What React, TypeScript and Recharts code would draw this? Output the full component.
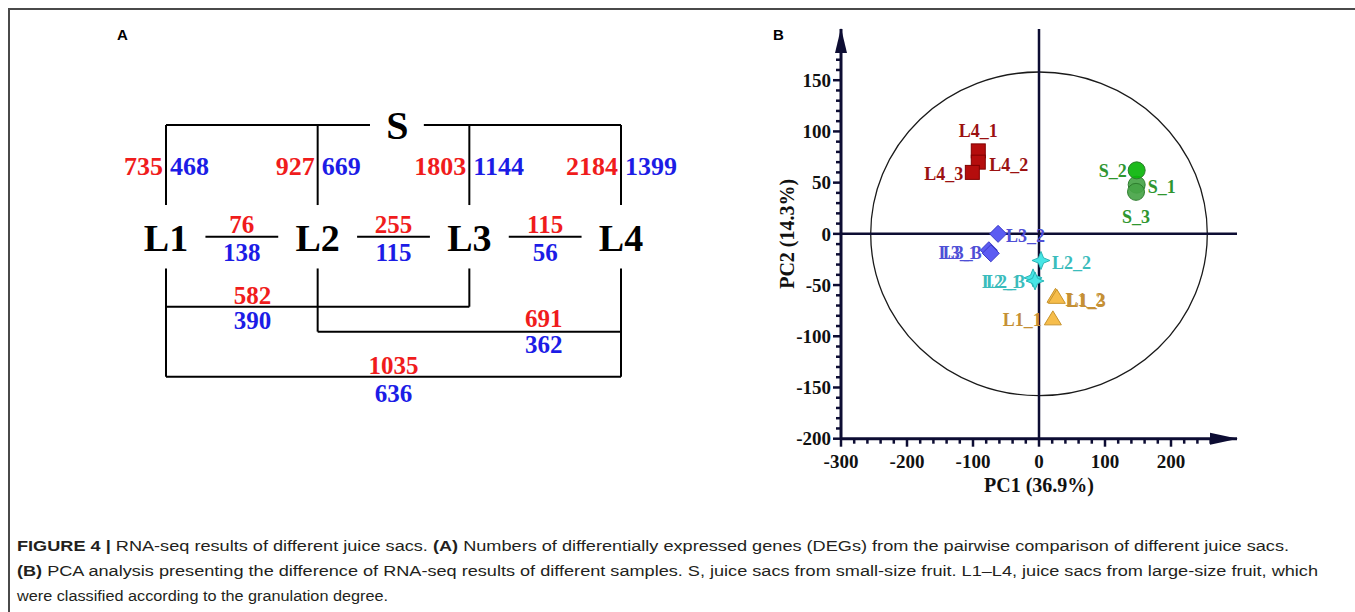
import React from 'react';
import {
  ComposedChart,
  ScatterChart,
  Scatter,
  XAxis,
  YAxis,
  ReferenceLine,
  ReferenceDot,
  ReferenceArea,
  Label,
} from 'recharts';

const SERIF = '"Liberation Serif", "Times New Roman", serif';
const SANS = '"Liberation Sans", Arial, Helvetica, sans-serif';
const RED = '#f01c1c';
const BLUE = '#1c1ce6';
const AXIS = '#0d0d33';

// ---------------- Panel A data (DEG counts) ----------------
const GROUPS = ['L1', 'L2', 'L3', 'L4'];
const VS_S_RED = [735, 927, 1803, 2184];
const VS_S_BLUE = [468, 669, 1144, 1399];
const ADJ_RED = [76, 255, 115]; // L1-L2, L2-L3, L3-L4
const ADJ_BLUE = [138, 115, 56];
const SKIP_PAIRS: [number, number][] = [[1, 3], [2, 4], [1, 4]];
const SKIP_RED = [582, 691, 1035];
const SKIP_BLUE = [390, 362, 636];

// Panel A diagram layout levels (diagram coordinates, not data)
const LV_S = 0;
const LV_TOPNUM = 16.3;
const LV_DROP = 31.8;
const LV_L = 44.9;
const LV_FRAC_RED = 39.3;
const LV_FRAC_BAR = 44.4;
const LV_FRAC_BLUE = 50.7;
const LV_LOW = 57;
const S_GAP: [number, number] = [2.345, 2.7];
const S_X = 2.525;
const FRAC_HALF = 0.24;
const SKIP_LEVEL = [72.2, 82.1, 100];
const SKIP_LABEL_X = [1.57, 3.49, 2.5];
const SKIP_LABEL_OFF: [number, number][] = [[-4.7, 5.2], [-5.3, 5.2], [-4.6, 6.6]];

// ---------------- Panel B data (PCA scores) ----------------
const S_NAMES = ['S_1', 'S_2', 'S_3'];
const S_PC1 = [148, 148, 147];
const S_PC2 = [48, 62, 41];

const L1_NAMES = ['L1_1', 'L1_2', 'L1_3'];
const L1_PC1 = [21, 25, 27];
const L1_PC2 = [-83, -61, -62];

const L2_NAMES = ['L2_1', 'L2_2', 'L2_3'];
const L2_PC1 = [-9, 3, -6];
const L2_PC2 = [-43, -26, -46];

const L3_NAMES = ['L3_1', 'L3_2', 'L3_3'];
const L3_PC1 = [-76, -62, -73];
const L3_PC2 = [-16, 0, -19];

const L4_NAMES = ['L4_1', 'L4_2', 'L4_3'];
const L4_PC1 = [-92, -92, -101];
const L4_PC2 = [81, 70, 60];

const X_MAJOR = [-300, -200, -100, 0, 100, 200];
const Y_MAJOR = [-200, -150, -100, -50, 0, 50, 100, 150];
const range = (a: number, b: number, s: number) => {
  const out: number[] = [];
  for (let v = a; v <= b; v += s) out.push(v);
  return out;
};
const X_TICKS = range(-300, 260, 20);
const Y_TICKS = range(-200, 170, 10);

const ELLIPSE_RX = 255;
const ELLIPSE_RY = 158;

type Style = { marker: string; fill: string; stroke: string; label: string };
const GROUP_STYLE: Record<string, Style> = {
  S: { marker: 'circle', fill: '#47a447', stroke: '#2d7d2d', label: '#2f962f' },
  L1: { marker: 'triangle', fill: '#f6bd4b', stroke: '#c8942e', label: '#c59035' },
  L2: { marker: 'star', fill: '#47e6e6', stroke: '#2ab5b5', label: '#3bbcbc' },
  L3: { marker: 'diamond', fill: '#5c5cf2', stroke: '#3c3cc8', label: '#4f4fd6' },
  L4: { marker: 'square', fill: '#b50d0d', stroke: '#800000', label: '#9b1111' },
};
const POINT_FILL: Record<string, string> = { S_2: '#0ab50a' };

// label offsets in pixels from the marker: [dx, dy, anchor]
const LABEL_PLACE: Record<string, [number, number, string]> = {
  S_1: [11, 2, 'start'],
  S_2: [-10, 0, 'end'],
  S_3: [0, 25, 'middle'],
  L4_1: [0, -20, 'middle'],
  L4_2: [11, 3, 'start'],
  L4_3: [-9, 1, 'end'],
  L3_1: [-11, 2, 'end'],
  L3_2: [8, 2, 'start'],
  L3_3: [-9, -1, 'end'],
  L2_1: [-12, 4, 'end'],
  L2_2: [11, 2, 'start'],
  L2_3: [-10, 1, 'end'],
  L1_1: [-11, 1, 'end'],
  L1_2: [10, 3, 'start'],
  L1_3: [10, 3, 'start'],
};

const toPoints = (names: string[], xs: number[], ys: number[]) =>
  names.map((name, i) => ({ name, pc1: xs[i], pc2: ys[i] }));

const makeShape = (style: Style) => (p: any) => {
  const { cx, cy, payload } = p;
  const name = payload.name;
  const fill = POINT_FILL[name] ?? style.fill;
  let marker: React.ReactNode = null;
  if (style.marker === 'circle') {
    marker = <circle cx={cx} cy={cy} r={8.5} fill={fill} stroke={style.stroke} strokeWidth={1} fillOpacity={0.92} />;
  } else if (style.marker === 'square') {
    marker = <rect x={cx - 7} y={cy - 7} width={14} height={14} fill={fill} stroke={style.stroke} strokeWidth={1} />;
  } else if (style.marker === 'diamond') {
    marker = (
      <polygon
        points={`${cx},${cy - 8.5} ${cx + 8.5},${cy} ${cx},${cy + 8.5} ${cx - 8.5},${cy}`}
        fill={fill}
        stroke={style.stroke}
        strokeWidth={1}
      />
    );
  } else if (style.marker === 'star') {
    const o = 9;
    const n = 2.6;
    marker = (
      <polygon
        points={`${cx},${cy - o} ${cx + n},${cy - n} ${cx + o},${cy} ${cx + n},${cy + n} ${cx},${cy + o} ${cx - n},${cy + n} ${cx - o},${cy} ${cx - n},${cy - n}`}
        fill={fill}
        stroke={style.stroke}
        strokeWidth={1}
      />
    );
  } else {
    marker = (
      <polygon
        points={`${cx},${cy - 8} ${cx + 8.5},${cy + 6} ${cx - 8.5},${cy + 6}`}
        fill={fill}
        stroke={style.stroke}
        strokeWidth={1}
      />
    );
  }
  const [dx, dy, anchor] = LABEL_PLACE[name];
  return (
    <g>
      {marker}
      <text
        x={cx + dx}
        y={cy + dy}
        dy="0.35em"
        textAnchor={anchor as any}
        fill={style.label}
        fontSize={18}
        fontWeight="bold"
        fontFamily={SERIF}
      >
        {name}
      </text>
    </g>
  );
};

const XTick = (p: any) => {
  const v = p.payload.value;
  const major = X_MAJOR.includes(v);
  return (
    <g>
      <line x1={p.x} x2={p.x} y1={p.y} y2={p.y + (major ? 8 : 5)} stroke={AXIS} strokeWidth={2.5} />
      {major && (
        <text x={p.x} y={p.y + 23} dy="0.35em" textAnchor="middle" fontSize={19} fontWeight="bold" fontFamily={SERIF} fill="#111">
          {v}
        </text>
      )}
    </g>
  );
};

const YTick = (p: any) => {
  const v = p.payload.value;
  const major = Y_MAJOR.includes(v);
  return (
    <g>
      <line x1={p.x - (major ? 8 : 5)} x2={p.x} y1={p.y} y2={p.y} stroke={AXIS} strokeWidth={2.5} />
      {major && (
        <text x={p.x - 10} y={p.y} dy="0.35em" textAnchor="end" fontSize={19} fontWeight="bold" fontFamily={SERIF} fill="#111">
          {v}
        </text>
      )}
    </g>
  );
};

function PanelB() {
  const groups: [string, { name: string; pc1: number; pc2: number }[]][] = [
    ['L4', toPoints(L4_NAMES, L4_PC1, L4_PC2)],
    ['S', toPoints(S_NAMES, S_PC1, S_PC2)],
    ['L3', toPoints(L3_NAMES, L3_PC1, L3_PC2)],
    ['L2', toPoints(L2_NAMES, L2_PC1, L2_PC2)],
    ['L1', toPoints(L1_NAMES, L1_PC1, L1_PC2)],
  ];
  return (
    <ScatterChart width={500} height={500} margin={{ top: 29, right: 23, bottom: 21.3, left: 21 }}>
      <XAxis
        type="number"
        dataKey="pc1"
        domain={[-300, 300]}
        allowDataOverflow
        ticks={X_TICKS}
        interval={0}
        tick={<XTick />}
        tickLine={false}
        tickSize={0}
        tickMargin={0}
        height={40}
        axisLine={{ stroke: AXIS, strokeWidth: 3 }}
      >
        <Label
          content={(p: any) => {
            const vb = p.viewBox;
            return (
              <text x={vb.x + vb.width / 2} y={vb.y + 46} dy="0.35em" textAnchor="middle" fontSize={20} fontWeight="bold" fontFamily={SERIF} fill="#111">
                PC1 (36.9%)
              </text>
            );
          }}
        />
      </XAxis>
      <YAxis
        type="number"
        dataKey="pc2"
        domain={[-200, 200]}
        allowDataOverflow
        ticks={Y_TICKS}
        interval={0}
        tick={<YTick />}
        tickLine={false}
        tickSize={0}
        tickMargin={0}
        width={60}
        axisLine={{ stroke: AXIS, strokeWidth: 3 }}
      >
        <Label
          content={(p: any) => {
            const vb = p.viewBox;
            const cx = vb.x + 6;
            const cy = vb.y + vb.height / 2;
            return (
              <text x={cx} y={cy} dy="0.35em" transform={`rotate(-90 ${cx} ${cy})`} textAnchor="middle" fontSize={20} fontWeight="bold" fontFamily={SERIF} fill="#111">
                PC2 (14.3%)
              </text>
            );
          }}
        />
      </YAxis>
      <ReferenceArea
        x1={-ELLIPSE_RX}
        x2={ELLIPSE_RX}
        y1={-ELLIPSE_RY}
        y2={ELLIPSE_RY}
        ifOverflow="visible"
        shape={(p: any) => (
          <ellipse cx={p.x + p.width / 2} cy={p.y + p.height / 2} rx={p.width / 2} ry={p.height / 2} fill="none" stroke="#1a1a1a" strokeWidth={1.3} />
        )}
      />
      <ReferenceLine x={0} stroke={AXIS} strokeWidth={2.5} />
      <ReferenceLine y={0} stroke={AXIS} strokeWidth={2.5} />
      <ReferenceDot
        x={300}
        y={-200}
        r={1}
        ifOverflow="visible"
        shape={(p: any) => (
          <polygon points={`${p.cx + 1},${p.cy} ${p.cx - 27},${p.cy - 6} ${p.cx - 27},${p.cy + 6}`} fill={AXIS} />
        )}
      />
      <ReferenceDot
        x={-300}
        y={200}
        r={1}
        ifOverflow="visible"
        shape={(p: any) => (
          <polygon points={`${p.cx},${p.cy - 1} ${p.cx - 6},${p.cy + 24} ${p.cx + 6},${p.cy + 24}`} fill={AXIS} />
        )}
      />
      {groups.map(([g, data]) => (
        <Scatter key={g} name={g} data={data} isAnimationActive={false} shape={makeShape(GROUP_STYLE[g])} />
      ))}
    </ScatterChart>
  );
}

function PanelA() {
  const dummy = [
    { x: 1, y: 0 },
    { x: 4, y: 100 },
  ];
  const T = (value: string | number, color: string, size: number, anchor = 'middle', dx = 0) => (p: any) => (
    <text x={p.cx + dx} y={p.cy} dy="0.35em" textAnchor={anchor as any} fill={color} fontSize={size} fontWeight="bold" fontFamily={SERIF}>
      {value}
    </text>
  );
  const els: React.ReactNode[] = [];
  let k = 0;
  const seg = (x1: number, y1: number, x2: number, y2: number) =>
    els.push(
      <ReferenceLine key={`s${k++}`} segment={[{ x: x1, y: y1 }, { x: x2, y: y2 }]} stroke="#000" strokeWidth={2} ifOverflow="visible" />
    );
  const dot = (x: number, y: number, shape: any) =>
    els.push(<ReferenceDot key={`d${k++}`} x={x} y={y} r={1} shape={shape} ifOverflow="visible" />);

  // S bracket
  seg(1, LV_S, S_GAP[0], LV_S);
  seg(S_GAP[1], LV_S, 4, LV_S);
  dot(S_X, LV_S, T('S', '#000', 40));
  GROUPS.forEach((g, i) => {
    const x = i + 1;
    seg(x, LV_S, x, LV_DROP);
    dot(x, LV_TOPNUM, T(VS_S_RED[i], RED, 26, 'end', -3));
    dot(x, LV_TOPNUM, T(VS_S_BLUE[i], BLUE, 26, 'start', 4));
    dot(x, LV_L, T(g, '#000', 38));
  });
  // adjacent comparisons
  ADJ_RED.forEach((v, i) => {
    const c = i + 1.5;
    seg(c - FRAC_HALF, LV_FRAC_BAR, c + FRAC_HALF, LV_FRAC_BAR);
    dot(c, LV_FRAC_RED, T(v, RED, 25));
    dot(c, LV_FRAC_BLUE, T(ADJ_BLUE[i], BLUE, 25));
  });
  // skip comparisons
  SKIP_PAIRS.forEach(([a, b], i) => {
    const lv = SKIP_LEVEL[i];
    seg(a, lv, b, lv);
    dot(SKIP_LABEL_X[i], lv + SKIP_LABEL_OFF[i][0], T(SKIP_RED[i], RED, 25));
    dot(SKIP_LABEL_X[i], lv + SKIP_LABEL_OFF[i][1], T(SKIP_BLUE[i], BLUE, 25));
  });
  // lower verticals down to the deepest bracket each group joins
  GROUPS.forEach((_, i) => {
    const x = i + 1;
    let deepest = LV_LOW;
    SKIP_PAIRS.forEach(([a, b], j) => {
      if (a === x || b === x) deepest = Math.max(deepest, SKIP_LEVEL[j]);
    });
    seg(x, LV_LOW, x, deepest);
  });

  return (
    <ComposedChart width={700} height={450} data={dummy} margin={{ top: 125, right: 79, bottom: 73.3, left: 166 }}>
      <XAxis type="number" dataKey="x" domain={[1, 4]} hide allowDataOverflow />
      <YAxis type="number" dataKey="y" domain={[0, 100]} reversed hide allowDataOverflow />
      {els}
    </ComposedChart>
  );
}

export default function App() {
  const capStyle: React.CSSProperties = { whiteSpace: 'pre' };
  return (
    <div style={{ position: 'absolute', left: 0, top: 0, width: 1355, height: 612, overflow: 'hidden', background: '#fff' }}>
      <div style={{ position: 'absolute', left: 8, top: 8, width: 1347, height: 1.5, background: '#4a4a4a' }} />
      <div style={{ position: 'absolute', left: 8, top: 8, width: 1.5, height: 604, background: '#4a4a4a' }} />
      <div style={{ position: 'absolute', left: 0, top: 0 }}>
        <PanelA />
      </div>
      <div style={{ position: 'absolute', left: 760, top: 0 }}>
        <PanelB />
      </div>
      <div style={{ position: 'absolute', left: 117, top: 26, fontFamily: SANS, fontWeight: 'bold', fontSize: 15, color: '#000' }}>A</div>
      <div style={{ position: 'absolute', left: 773, top: 26, fontFamily: SANS, fontWeight: 'bold', fontSize: 15, color: '#000' }}>B</div>
      <svg style={{ position: 'absolute', left: 0, top: 520 }} width={1355} height={92}>
        <text x={17} y={30.5} fontFamily={SANS} fontSize={15.5} fill="#231f20" textLength={1272} lengthAdjust="spacingAndGlyphs" style={capStyle}>
          <tspan fontWeight="bold">FIGURE 4 |</tspan>
          <tspan> RNA-seq results of different juice sacs. </tspan>
          <tspan fontWeight="bold">(A)</tspan>
          <tspan> Numbers of differentially expressed genes (DEGs) from the pairwise comparison of different juice sacs.</tspan>
        </text>
        <text x={17} y={55.5} fontFamily={SANS} fontSize={15.5} fill="#231f20" textLength={1301} lengthAdjust="spacingAndGlyphs" style={capStyle}>
          <tspan fontWeight="bold">(B)</tspan>
          <tspan> PCA analysis presenting the difference of RNA-seq results of different samples. S, juice sacs from small-size fruit. L1–L4, juice sacs from large-size fruit, which</tspan>
        </text>
        <text x={17} y={80.5} fontFamily={SANS} fontSize={15.5} fill="#231f20" textLength={371} lengthAdjust="spacingAndGlyphs" style={capStyle}>
          were classified according to the granulation degree.
        </text>
      </svg>
    </div>
  );
}
